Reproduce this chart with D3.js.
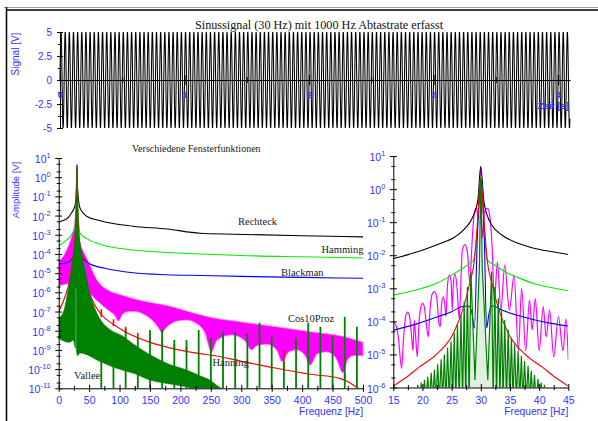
<!DOCTYPE html>
<html>
<head>
<meta charset="utf-8">
<title>Fensterfunktionen</title>
<script src="https://cdn.jsdelivr.net/npm/d3@7/dist/d3.min.js"></script>
<style>
  html, body { margin: 0; padding: 0; background: #ffffff; }
  svg { display: block; }
</style>
</head>
<body>
<svg id="chart" width="598" height="421"></svg>
<script>
// ---------------- Messsignal ----------------
// 30-Hz-Sinus, 5 V Amplitude, mit 1000 Hz abgetastet (4096 Werte)
const signalFreqHz = 30;
const sampleRateHz = 1000;
const signalAmplitudeV = 5;
const sampleCount = 4096;

// ---------------- Achsenbeschriftungen ----------------
const timeTickLabels = [0, 1, 2, 3, 4];
const signalTickLabels = [5, 2.5, 0, -2.5, -5];
const freqTicksWide = [0, 50, 100, 150, 200, 250, 300, 350, 400, 450, 500];
const freqTicksZoom = [15, 20, 25, 30, 35, 40, 45];
const decadesWide = [1, 0, -1, -2, -3, -4, -5, -6, -7, -8, -9, -10, -11];
const decadesZoom = [1, 0, -1, -2, -3, -4, -5, -6];

// ---------------- Spektren 0–500 Hz: [Frequenz Hz, Amplitude V] ----------------
const rechteckWide = [[0,4.8e-3],[13,6.6e-3],[21,0.0135],[27,0.035],[29,0.25],[30,4.3],[31,0.25],[35,0.0245],
  [46,9.3e-3],[68,5.4e-3],[122,2.8e-3],[178,2.0e-3],[232,1.2e-3],[287,1.07e-3],[400,8.9e-4],[500,7.8e-4]];
const hammingWide = [[0,2.6e-4],[13,5.4e-4],[21,9.8e-4],[27,2.6e-3],[29,0.1],[30,2.5],[31,0.1],[35,1.2e-3],
  [46,6.3e-4],[68,3.2e-4],[122,1.6e-4],[178,1.2e-4],[232,1.0e-4],[300,8.3e-5],[400,7.1e-5],[500,6.2e-5]];
const blackmanWide = [[0,3.0e-5],[13,3.5e-5],[21,5.0e-5],[26,1.0e-4],[28.5,3.2e-4],[30,2.0],[31.5,3.2e-4],[35,7.9e-5],
  [40.5,5.5e-5],[50,3.2e-5],[76,1.8e-5],[122,1.05e-5],[178,8.3e-6],[232,7.6e-6],[300,6.8e-6],[400,6.0e-6],[500,5.4e-6]];
const hanningWide = [[0,9.8e-8],[10.4,5.9e-7],[18.6,5.4e-6],[24,8.9e-5],[27,1e-3],[29,0.032],[30,2.2],[31,0.032],
  [33,1e-3],[37,1.3e-4],[44,5.4e-6],[54,4.9e-7],[70.7,6.6e-8],[90,2.1e-8],[109,8.9e-9],[147,2.7e-9],[186,1.2e-9],
  [229,6.6e-10],[257,5.0e-10],[303,2.45e-10],[358,1.1e-10],[413,5.4e-11],[462,3.3e-11],[492,1.0e-11],[500,6.3e-12]];
// kurze Ausreißer der Hanning-Kurve: [Frequenz, von, bis]
const hanningSpikes = [[70,6.3e-8,1.3e-7],[90,2.1e-8,4.0e-8],[110,8.5e-9,1.6e-8],[130,4.5e-9,7.9e-9],[150,2.5e-9,4.5e-9],
  [170,1.6e-9,2.8e-9],[190,1.1e-9,2.0e-9],[210,8.5e-10,1.4e-9],[370,1.0e-10,1.0e-9],[470,3.0e-11,6.3e-11]];
// Cos10Proz: Hüllkurven des dicht oszillierenden Spektrums
const cos10WideUpper = [[0,4.0e-5],[8,7.9e-5],[13,1.6e-4],[21,7.9e-4],[26,4.0e-3],[28.5,0.032],[30,4.8],[31.5,0.032],
  [33,2.0e-3],[35,4.4e-4],[42,1.1e-4],[48.7,4.0e-5],[57,1.0e-5],[65,3.5e-6],[81.5,1.3e-6],[103.5,7.2e-7],[131,4.0e-7],
  [158,2.7e-7],[186,1.8e-7],[213,1.0e-7],[249,5.0e-8],[303,2.8e-8],[358,1.6e-8],[413,8.9e-9],[468,5.0e-9],[500,2.5e-9]];
const cos10WideLower = [[0,2.2e-6],[15,2.8e-6],[25,3.2e-6],[28.5,4.0e-6],[29.5,1e-3],[30,4.8],[30.5,1e-3],[31.5,5.0e-6],
  [36,5.0e-6],[42,2.5e-6],[50,1.0e-6],[65,3.2e-7],[80,1.26e-7],[92,6.3e-8],[98,3.2e-8],[105,7.1e-8],[115,1.0e-7],
  [125,1.0e-7],[140,7.1e-8],[155,3.2e-8],[165,1.26e-8],[169,7.9e-9],[178,1.6e-8],[195,3.2e-8],[210,3.6e-8],[225,2.5e-8],
  [240,7.9e-9],[251,7.9e-10],[260,3.2e-9],[284,6.0e-9],[305,3.2e-9],[317,1.0e-9],[325,1.6e-9],[342,1.95e-9],[358,1.0e-9],
  [367,2.5e-10],[378,7.9e-10],[391,1.0e-9],[405,5.0e-10],[413,1.6e-10],[425,6.3e-10],[440,7.9e-10],[455,4.0e-10],
  [467,6.3e-11],[475,3.2e-10],[484,5.0e-10],[500,5.0e-10]];
// Vallee: Hüllkurven und Oberwellenlinien
const valleeWideUpper = [[0,4.5e-8],[8,1e-7],[15.8,1.6e-6],[20,1e-5],[24,8.9e-5],[27.3,1e-3],[29.2,0.032],[30,1.95],
  [30.8,0.032],[33,1.3e-3],[36,2.2e-4],[43,1.6e-5],[50,1.3e-6],[60,1.3e-7],[70,3.2e-8],[85,1.1e-8],[103.5,5.6e-9],
  [123,2.0e-9],[150,5.6e-10],[177.5,2.0e-10],[210,9.0e-11],[232,4.5e-11],[250,2.5e-11],[262,1.26e-11],[270,9e-12]];
const valleeWideLower = [[0,4.0e-9],[11,2.7e-9],[18,2.5e-9],[24,3.2e-9],[27.6,1.26e-9],[27.8,1.6e-6],[28.9,1.6e-6],
  [29.1,1.0e-9],[31,5.0e-10],[35,6.9e-10],[68,2.5e-10],[95,1.1e-10],[123,6.0e-11],[150,2.7e-11],[177.5,1.8e-11],
  [210,1.2e-11],[220,1e-11],[270,9e-12]];
const valleeHarmonics = [[70,1.6e-8],[90,6.0e-9],[110,1.3e-8],[130,4.0e-9],[150,1.1e-8],[170,1.2e-8],[190,3.3e-9],
  [210,3.3e-9],[230,1.1e-8],[250,4.0e-9],[270,8.9e-9],[290,8.9e-9],[310,7.2e-9],[330,2.6e-8],[350,4.9e-9],[370,2.5e-10],
  [390,4.0e-9],[410,2.6e-8],[430,1.6e-8],[450,4.9e-9],[470,5.4e-8],[490,1.6e-8]];

// ---------------- Spektren 15–45 Hz (Ausschnitt) ----------------
const rechteckZoom = [[15,7.9e-3],[19.3,0.0129],[22.7,0.0214],[25.6,0.036],[27.3,0.065],[28.5,0.129],[29.5,0.47],[30,4.8],
  [30.5,0.47],[31.3,0.129],[31.9,0.081],[33.6,0.041],[36.4,0.023],[39.3,0.016],[42.1,0.0129],[45,0.0105]];
const hammingZoom = [[15,6.2e-4],[19.3,9.3e-4],[22.7,1.5e-3],[25,2.5e-3],[27.3,4.5e-3],[28.7,6.8e-3],[29.3,0.032],[30,2.5],
  [30.7,0.032],[31.1,7.2e-3],[32.4,5.0e-3],[34.1,3.2e-3],[36.4,2.1e-3],[39.3,1.35e-3],[42.1,1.05e-3],[45,8.3e-4]];
const blackmanZoom = [[15,5.4e-5],[19.3,8.7e-5],[22.7,1.4e-4],[25,1.95e-4],[26.7,2.75e-4],[27.9,2.9e-4],[28.5,1.7e-4],
  [28.9,6.2e-5],[29.4,0.032],[30,2.0],[30.6,0.032],[31.0,6.3e-5],[31.4,1.7e-4],[32.0,2.95e-4],[33.6,2.2e-4],[36.4,1.5e-4],
  [39.3,1.1e-4],[42.1,8.7e-5],[45,7.2e-5]];
const hanningZoom = [[15,1.1e-6],[17,1.9e-6],[19.5,4.2e-6],[22.4,1.0e-5],[25.3,4.4e-5],[27.0,2.5e-4],[28.1,1.4e-3],
  [28.9,7.1e-3],[29.5,0.145],[30,2.2],[30.5,0.145],[31.1,7.1e-3],[31.9,1.4e-3],[33,2.5e-4],[34.7,4.4e-5],[37.6,1.0e-5],
  [40.5,4.2e-6],[43,1.9e-6],[45,1.1e-6]];
const cos10Zoom = [[14.83,9.8e-5],[15.29,8.7e-5],[15.86,3.4e-5],[16.43,3.8e-6],[16.77,3.4e-5],[17.11,1.4e-4],[17.46,1.9e-4],
  [17.8,1.4e-4],[18.14,3.4e-5],[18.37,1.3e-5],[18.6,1.1e-4],[18.83,3.4e-5],[19.11,8.5e-6],[19.4,8.7e-5],[19.74,2.8e-4],
  [20.03,3.5e-4],[20.31,2.8e-4],[20.66,8.7e-5],[21.0,3.4e-5],[21.29,2.2e-4],[21.69,6.9e-4],[22.03,7.9e-4],[22.43,5.5e-4],
  [22.83,8.7e-5],[23.06,6.9e-5],[23.29,3.5e-4],[23.57,5.5e-4],[23.86,2.8e-4],[24.03,1.4e-4],[24.31,1.4e-3],[24.6,2.5e-3],
  [24.89,1.8e-3],[25.11,2.2e-4],[25.29,1.4e-3],[25.57,2.7e-3],[25.86,1.4e-3],[26.14,2.8e-4],[26.3,1.2e-4],[26.83,0.014],
  [27.29,0.021],[27.74,0.011],[28.14,1.4e-3],[28.43,0.014],[28.89,0.19],[29.23,0.26],[29.57,0.14],[29.97,4.8],
  [30.26,0.032],[30.71,0.23],[31.17,0.26],[31.57,0.14],[31.97,0.014],[32.31,3.5e-4],[32.85,6.3e-3],[33.45,2.2e-4],
  [34.1,5.0e-3],[34.9,2.2e-4],[35.7,2.5e-3],[36.45,1.3e-5],[37.0,1.0e-3],[37.7,1.3e-5],[38.35,4.4e-4],[38.8,5.5e-5],
  [39.35,4.9e-4],[40.0,1.3e-5],[40.7,2.8e-4],[41.2,3.4e-5],[41.8,2.2e-4],[42.5,8.5e-6],[43.3,1.4e-4],[44.1,1.3e-5],
  [44.6,1.2e-4],[45.0,6.8e-6]];
const valleeZoomPeaks = [[18.6,1.0e-6],[19.2,1.2e-6],[19.8,1.4e-6],[20.35,1.7e-6],[20.9,2.1e-6],[21.5,2.8e-6],[22.05,3.5e-6],
  [22.6,5.0e-6],[23.2,7.1e-6],[23.75,1.0e-5],[24.3,1.6e-5],[24.9,2.5e-5],[25.45,4.5e-5],[26.0,7.9e-5],[26.6,1.6e-4],
  [27.15,4.0e-4],[27.7,1.1e-3],[28.3,3.2e-3],[30.0,1.95],[31.85,3.2e-3],[32.4,1.1e-3],[33.0,5.0e-4],[33.55,2.2e-4],
  [34.1,1.1e-4],[34.7,5.6e-5],[35.25,3.2e-5],[35.8,2.0e-5],[36.4,1.26e-5],[36.95,8.9e-6],[37.5,6.3e-6],[38.1,4.5e-6],
  [38.65,3.2e-6],[39.2,2.4e-6],[39.8,1.8e-6],[40.35,1.4e-6],[40.9,1.2e-6],[41.5,1.0e-6]];
const valleeZoomNulls = [[18.3,4e-7],[18.9,4e-7],[19.5,4e-7],[20.08,4e-7],[20.62,4e-7],[21.2,4e-7],[21.78,4e-7],[22.32,4e-7],
  [22.9,4e-7],[23.48,4e-7],[24.02,4e-7],[24.6,4e-7],[25.18,4e-7],[25.72,4e-7],[26.3,4e-7],[26.88,4e-7],[27.42,4e-7],
  [28.0,4e-7],[29.0,1.7e-6],[29.75,4e-3],[30.25,4e-3],[31.2,1.7e-6],[32.12,4e-7],[32.7,4e-7],[33.28,4e-7],[33.82,4e-7],
  [34.4,4e-7],[34.98,4e-7],[35.52,4e-7],[36.1,4e-7],[36.68,4e-7],[37.22,4e-7],[37.8,4e-7],[38.38,4e-7],[38.92,4e-7],
  [39.5,4e-7],[40.08,4e-7],[40.62,4e-7],[41.2,4e-7],[41.8,4e-7]];

// ---------------- Zeichnung ----------------
const BLUE = '#3333ff';
const SANS = '"Liberation Sans", Arial, Helvetica, sans-serif';
const SERIF = '"Liberation Serif", "Times New Roman", serif';
const C = { rechteck: '#000000', hamming: '#00ee00', blackman: '#0000ff', hanning: '#ff0000', cos10: '#ff00ff', vallee: '#008000' };

const svg = d3.select('#chart');

// Rahmen
svg.append('line').attr('x1', 4).attr('x2', 598).attr('y1', 7.5).attr('y2', 7.5).attr('stroke', '#a0a0a0');
svg.append('line').attr('x1', 6.5).attr('x2', 598).attr('y1', 10).attr('y2', 10).attr('stroke', '#000').attr('stroke-width', 1.5);
svg.append('line').attr('x1', 6.5).attr('x2', 6.5).attr('y1', 7).attr('y2', 421).attr('stroke', '#000').attr('stroke-width', 1.5);

// ======== Zeitsignal ========
const duration = sampleCount / sampleRateHz;
const xT = d3.scaleLinear().domain([0, duration]).range([60, 570]);
const yT = d3.scaleLinear().domain([-5, 5]).range([128, 32]);
const samples = d3.range(sampleCount).map(i => {
  const t = i / sampleRateHz;
  return [t, signalAmplitudeV * Math.sin(2 * Math.PI * signalFreqHz * t)];
});

svg.append('text').attr('x', 195).attr('y', 29).attr('font-family', SERIF).attr('font-size', 12.2)
  .attr('fill', '#111').text('Sinussignal (30 Hz) mit 1000 Hz Abtastrate erfasst');

svg.append('path').datum(samples)
  .attr('d', d3.line().x(d => xT(d[0])).y(d => yT(d[1])))
  .attr('fill', 'none').attr('stroke', '#000').attr('stroke-width', 1.05);

// y-Achse
const gTy = svg.append('g').attr('transform', `translate(${xT(0)},0)`)
  .call(d3.axisLeft(yT).tickValues(signalTickLabels).tickSize(3).tickSizeOuter(0).tickFormat(''));
gTy.selectAll('.tick line').attr('x1', 3);
gTy.selectAll('.tick text').remove();
gTy.append('g').call(d3.axisLeft(yT).tickValues([3.75, 1.25, -1.25, -3.75]).tickSize(2).tickSizeOuter(0).tickFormat(''))
  .call(g => { g.select('.domain').remove(); g.selectAll('.tick line').attr('x1', 2); });
gTy.selectAll('.tick').filter(d => signalTickLabels.includes(d)).append('text')
  .attr('x', -8).attr('y', 3.5).attr('text-anchor', 'end').attr('fill', BLUE)
  .attr('font-family', SANS).attr('font-size', 10).text(d => d);

// Zeitachse bei 0 V
const gTx = svg.append('g').attr('transform', `translate(0,${yT(0)})`)
  .call(d3.axisBottom(xT).tickValues(timeTickLabels).tickSize(5).tickSizeOuter(0).tickFormat(''));
gTx.selectAll('.tick line').attr('y1', -5).attr('stroke-width', 1.2);
gTx.selectAll('.tick text').remove();
gTx.append('g').call(d3.axisBottom(xT).tickValues([0.5, 1.5, 2.5, 3.5]).tickSize(3).tickSizeOuter(0).tickFormat(''))
  .call(g => { g.select('.domain').remove(); g.selectAll('.tick line').attr('y1', -3); });
gTx.select('.domain').attr('stroke-width', 1.2);
gTx.selectAll('.tick').filter(d => timeTickLabels.includes(d)).append('text')
  .attr('y', 17.5).attr('text-anchor', 'middle').attr('fill', BLUE)
  .attr('font-family', SANS).attr('font-weight', 'bold').attr('font-size', 9.5).text(d => d);
svg.append('text').attr('x', 569).attr('y', 109).attr('text-anchor', 'end').attr('fill', BLUE)
  .attr('font-family', SANS).attr('font-weight', 'bold').attr('font-size', 9.5).text('Zeit [s]');
svg.append('text').attr('transform', 'translate(19,54) rotate(-90)').attr('text-anchor', 'middle')
  .attr('fill', BLUE).attr('font-family', SANS).attr('font-size', 10).text('Signal [V]');

// ======== Spektren ========
const xL = d3.scaleLinear().domain([0, 500]).range([58.7, 363]);
const yL = d3.scaleLog().domain([1e-11, 10]).range([388.3, 158]);
const xR = d3.scaleLinear().domain([15, 45]).range([393.3, 568.3]);
const yR = d3.scaleLog().domain([1e-6, 10]).range([387.5, 156]);

const defs = svg.append('defs');
defs.append('clipPath').attr('id', 'clipL').append('rect')
  .attr('x', xL(0)).attr('y', 140).attr('width', xL(500) - xL(0) + 1).attr('height', yL(1e-11) - 140);
defs.append('clipPath').attr('id', 'clipR').append('rect')
  .attr('x', xR(15)).attr('y', 140).attr('width', xR(45) - xR(15)).attr('height', yR(1e-6) - 140);

function lineGen(xs, ys, curve) {
  return d3.line().x(d => xs(d[0])).y(d => ys(d[1])).curve(curve || d3.curveMonotoneX);
}
function bandPath(upper, lower, xs, ys) {
  const lg = lineGen(xs, ys);
  const a = lg(upper);
  const b = lg(lower.slice().reverse());
  return a + 'L' + b.slice(1) + 'Z';
}

// ---- Übersicht 0–500 Hz ----
const gL = svg.append('g').attr('clip-path', 'url(#clipL)');
gL.append('path').attr('d', bandPath(cos10WideUpper, cos10WideLower, xL, yL))
  .attr('fill', C.cos10).attr('stroke', '#ff7cff').attr('stroke-width', 0.8);
[[rechteckWide, C.rechteck], [hammingWide, C.hamming], [blackmanWide, C.blackman], [hanningWide, C.hanning]]
  .forEach(([data, col]) => {
    gL.append('path').datum(data).attr('d', lineGen(xL, yL))
      .attr('fill', 'none').attr('stroke', col).attr('stroke-width', 1.1);
  });
gL.selectAll('line.hs').data(hanningSpikes).join('line').attr('class', 'hs')
  .attr('x1', d => xL(d[0])).attr('x2', d => xL(d[0]))
  .attr('y1', d => yL(d[1]) + 1.5).attr('y2', d => yL(d[2]))
  .attr('stroke', C.hanning).attr('stroke-width', 1.6);
gL.append('path').attr('d', bandPath(valleeWideUpper, valleeWideLower, xL, yL))
  .attr('fill', C.vallee).attr('stroke', C.vallee).attr('stroke-width', 0.6);
gL.selectAll('line.vh').data(valleeHarmonics).join('line').attr('class', 'vh')
  .attr('x1', d => xL(d[0])).attr('x2', d => xL(d[0]))
  .attr('y1', yL(1e-11)).attr('y2', d => yL(d[1]))
  .attr('stroke', C.vallee).attr('stroke-width', 1.8);

// Achsen der Spektren
function logAxis(xs, ys, exps, xTicks, minorX, labelGap) {
  const x0 = xs.range()[0], yBottom = ys.range()[0];
  const gy = svg.append('g').attr('transform', `translate(${x0},0)`)
    .call(d3.axisLeft(ys).tickValues(exps.map(e => Math.pow(10, e))).tickSize(3.5).tickSizeOuter(0).tickFormat(''));
  gy.selectAll('.tick line').attr('x1', 3.5);
  gy.selectAll('.tick text').remove();
  gy.selectAll('.tick').append('text').attr('x', -labelGap).attr('y', 4.5).attr('text-anchor', 'end')
    .attr('fill', BLUE).attr('font-family', SANS).attr('font-size', 10.5)
    .each(function (d) {
      const e = Math.round(Math.log10(d));
      const t = d3.select(this);
      t.append('tspan').text('10');
      t.append('tspan').attr('dy', -5).attr('font-size', 7.5).text(String(e));
    });
  const minors = [];
  exps.slice(1).forEach(e => [2, 5].forEach(m => minors.push(m * Math.pow(10, e))));
  gy.append('g').call(d3.axisLeft(ys).tickValues(minors).tickSize(2).tickSizeOuter(0).tickFormat(''))
    .call(g => { g.select('.domain').remove(); g.selectAll('.tick line').attr('x1', 2); g.selectAll('.tick text').remove(); });

  const gx = svg.append('g').attr('transform', `translate(0,${yBottom})`)
    .call(d3.axisBottom(xs).tickValues(xTicks).tickSize(3.5).tickSizeOuter(0).tickFormat(''));
  gx.selectAll('.tick line').attr('y1', -3.5);
  gx.selectAll('.tick text').remove();
  gx.selectAll('.tick').append('text')
    .attr('y', 16).attr('text-anchor', 'middle').attr('fill', BLUE)
    .attr('font-family', SANS).attr('font-size', 10.5).text(d => d);
  gx.append('g').call(d3.axisBottom(xs).tickValues(minorX).tickSize(2.5).tickSizeOuter(0).tickFormat(''))
    .call(g => { g.select('.domain').remove(); g.selectAll('.tick line').attr('y1', -2.5); g.selectAll('.tick text').remove(); });
  svg.append('text').attr('x', xs.range()[1]).attr('y', yBottom + 27).attr('text-anchor', 'end')
    .attr('fill', BLUE).attr('font-family', SANS).attr('font-size', 10.2).text('Frequenz [Hz]');
}
logAxis(xL, yL, decadesWide, freqTicksWide, d3.range(25, 500, 50), 8);

svg.append('text').attr('transform', 'translate(19,190) rotate(-90)').attr('text-anchor', 'middle')
  .attr('fill', BLUE).attr('font-family', SANS).attr('font-size', 9.5).text('Amplitude [V]');

// Beschriftungen der Kurven
const labelStyle = s => s.attr('font-family', SERIF).attr('font-size', 10.5).attr('fill', '#222');
svg.append('text').attr('x', 132).attr('y', 151.5).call(labelStyle).attr('font-size', 10).text('Verschiedene Fensterfunktionen');
svg.append('text').attr('x', 238).attr('y', 225).call(labelStyle).text('Rechteck');
svg.append('text').attr('x', 321.5).attr('y', 252.5).call(labelStyle).text('Hamming');
svg.append('text').attr('x', 281).attr('y', 276).call(labelStyle).text('Blackman');
svg.append('text').attr('x', 288).attr('y', 321.5).call(labelStyle).text('Cos10Proz');
svg.append('text').attr('x', 212.5).attr('y', 366).call(labelStyle).text('Hanning');
svg.append('text').attr('x', 74).attr('y', 379).call(labelStyle).text('Vallee');

// ---- Ausschnitt 15–45 Hz ----
const gR = svg.append('g').attr('clip-path', 'url(#clipR)');
gR.append('path').datum(cos10Zoom).attr('d', lineGen(xR, yR))
  .attr('fill', 'none').attr('stroke', C.cos10).attr('stroke-width', 1.2);
[[rechteckZoom, C.rechteck], [hammingZoom, C.hamming], [blackmanZoom, C.blackman], [hanningZoom, C.hanning]]
  .forEach(([data, col]) => {
    gR.append('path').datum(data).attr('d', lineGen(xR, yR))
      .attr('fill', 'none').attr('stroke', col).attr('stroke-width', 1.1);
  });
const valleeZoom = valleeZoomPeaks.concat(valleeZoomNulls).sort((a, b) => a[0] - b[0]);
gR.append('path').datum(valleeZoom).attr('d', lineGen(xR, yR, d3.curveLinear))
  .attr('fill', 'rgba(0,128,0,0.12)').attr('stroke', C.vallee).attr('stroke-width', 1.2);

logAxis(xR, yR, decadesZoom, freqTicksZoom, [17.5, 22.5, 27.5, 32.5, 37.5, 42.5], 8);
</script>
</body>
</html>
